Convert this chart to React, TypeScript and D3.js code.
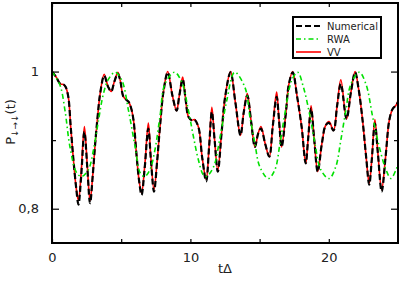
import React, { useEffect, useRef } from "react";
import * as d3 from "d3";

// ---- data ----
const numT = [0, 0.3, 0.6, 0.85, 1.0, 1.18, 1.35, 1.55, 1.75, 1.91, 2.1, 2.34, 2.55, 2.75, 2.95, 3.12, 3.3, 3.48, 3.77, 4.05, 4.28, 4.5, 4.76, 4.95, 5.17, 5.53, 5.7, 5.89, 6.1, 6.3, 6.47, 6.7, 6.96, 7.15, 7.37, 7.6, 7.8, 8.05, 8.36, 8.7, 9.0, 9.2, 9.44, 9.65, 9.86, 10.1, 10.29, 10.58, 10.85, 11.14, 11.35, 11.55, 11.75, 11.98, 12.25, 12.51, 12.9, 13.25, 13.62, 13.85, 14.11, 14.4, 14.66, 14.9, 15.1, 15.4, 15.7, 15.95, 16.23, 16.4, 16.59, 16.9, 17.1, 17.39, 17.7, 18.04, 18.33, 18.5, 18.72, 18.95, 19.2, 19.5, 19.78, 20.02, 20.34, 20.6, 20.87, 21.28, 21.6, 21.9, 22.15, 22.44, 22.7, 22.92, 23.1, 23.33, 23.55, 23.82, 24.1, 24.37, 24.6, 24.86, 25];
const numericalV = [1.0, 0.992, 0.982, 0.981, 0.977, 0.963, 0.92, 0.871, 0.83, 0.806, 0.845, 0.912, 0.86, 0.808, 0.85, 0.895, 0.935, 0.968, 0.994, 0.978, 0.971, 0.985, 0.997, 0.985, 0.963, 0.956, 0.948, 0.929, 0.88, 0.84, 0.82, 0.86, 0.917, 0.87, 0.825, 0.87, 0.919, 0.97, 0.999, 0.965, 0.943, 0.965, 0.989, 0.96, 0.934, 0.929, 0.93, 0.919, 0.875, 0.84, 0.89, 0.941, 0.9, 0.854, 0.91, 0.963, 0.999, 0.955, 0.907, 0.94, 0.965, 0.925, 0.89, 0.91, 0.917, 0.895, 0.876, 0.92, 0.963, 0.93, 0.89, 0.94, 0.98, 0.999, 0.965, 0.919, 0.866, 0.9, 0.946, 0.9, 0.854, 0.895, 0.922, 0.925, 0.914, 0.95, 0.982, 0.931, 0.97, 0.999, 0.975, 0.929, 0.875, 0.835, 0.87, 0.924, 0.88, 0.825, 0.875, 0.929, 0.945, 0.951, 0.955];
const vvV = [1.0, 0.992, 0.982, 0.981, 0.977, 0.963, 0.92, 0.871, 0.83, 0.812, 0.85, 0.92, 0.862, 0.812, 0.85, 0.895, 0.935, 0.968, 0.996, 0.978, 0.971, 0.985, 0.999, 0.985, 0.963, 0.956, 0.948, 0.929, 0.88, 0.84, 0.823, 0.862, 0.925, 0.872, 0.828, 0.87, 0.919, 0.97, 1.0, 0.965, 0.943, 0.965, 0.992, 0.96, 0.934, 0.929, 0.93, 0.919, 0.875, 0.843, 0.89, 0.948, 0.9, 0.856, 0.91, 0.963, 1.0, 0.955, 0.907, 0.94, 0.968, 0.925, 0.89, 0.91, 0.92, 0.895, 0.876, 0.92, 0.97, 0.93, 0.89, 0.94, 0.98, 1.0, 0.965, 0.919, 0.866, 0.9, 0.95, 0.9, 0.854, 0.895, 0.922, 0.927, 0.914, 0.95, 0.988, 0.931, 0.97, 1.0, 0.975, 0.929, 0.875, 0.837, 0.87, 0.93, 0.88, 0.828, 0.875, 0.929, 0.945, 0.951, 0.958];
const rwaT = [0, 0.58, 0.94, 1.3, 1.79, 2.15, 2.63, 3.0, 3.36, 3.72, 4.08, 4.57, 5.05, 5.53, 6.01, 6.38, 6.7, 7.08, 7.44, 7.8, 8.16, 8.85, 9.37, 9.86, 10.22, 10.58, 10.94, 11.15, 11.67, 12.15, 12.63, 13.2, 13.94, 14.3, 14.66, 15.02, 15.63, 16.11, 16.47, 16.83, 17.32, 17.75, 18.17, 18.65, 19.0, 19.42, 20.02, 20.5, 20.87, 21.23, 21.6, 22.2, 22.68, 23.17, 23.65, 24.13, 24.49, 24.86, 25];
const rwaV = [1.0, 0.98, 0.943, 0.89, 0.852, 0.847, 0.857, 0.886, 0.929, 0.968, 0.989, 0.999, 0.987, 0.943, 0.89, 0.852, 0.847, 0.857, 0.886, 0.934, 0.982, 0.999, 0.985, 0.943, 0.905, 0.871, 0.849, 0.847, 0.861, 0.905, 0.958, 0.999, 0.977, 0.934, 0.895, 0.861, 0.844, 0.857, 0.895, 0.939, 0.987, 0.999, 0.977, 0.934, 0.895, 0.857, 0.844, 0.861, 0.9, 0.943, 0.982, 0.999, 0.982, 0.934, 0.89, 0.857, 0.844, 0.857, 0.865];

const xMajorTicks = [0, 10, 20];
const xMinorTicks = [5, 15, 25];
const yMajorTicks = [0.8, 1.0];
const yMinorTicks = [0.9];
const legendLabels = ["Numerical", "RWA", "VV"];

const W = 399, H = 281;
const M = { left: 52, right: 398, top: 3, bottom: 243 };
const FONT = "DejaVu Sans, sans-serif";

export default function App() {
  const ref = useRef<SVGSVGElement>(null);

  useEffect(() => {
    const svg = d3.select(ref.current);
    svg.selectAll("*").remove();
    const x = d3.scaleLinear().domain([0, 25]).range([M.left, M.right]);
    const y = d3.scaleLinear().domain([0.75, 1.1]).range([M.bottom, M.top]);

    svg.append("defs").append("clipPath").attr("id", "clip")
      .append("rect").attr("x", M.left).attr("y", M.top)
      .attr("width", M.right - M.left).attr("height", M.bottom - M.top);

    const line = d3.line<[number, number]>()
      .x((d) => x(d[0])).y((d) => y(d[1]))
      .curve(d3.curveCatmullRom.alpha(0.5));

    const g = svg.append("g").attr("clip-path", "url(#clip)");
    const numData = numT.map((t, i) => [t, numericalV[i]] as [number, number]);
    const vvData = numT.map((t, i) => [t, vvV[i]] as [number, number]);
    const rwaData = rwaT.map((t, i) => [t, rwaV[i]] as [number, number]);

    g.append("path").attr("d", line(vvData)).attr("fill", "none")
      .attr("stroke", "#ff0000").attr("stroke-width", 1.6);
    g.append("path").attr("d", line(numData)).attr("fill", "none")
      .attr("stroke", "#000").attr("stroke-width", 2.2).attr("stroke-dasharray", "6,3");
    g.append("path").attr("d", line(rwaData)).attr("fill", "none")
      .attr("stroke", "#00e000").attr("stroke-width", 1.6).attr("stroke-dasharray", "5,3,1.5,3");

    // axes with inward ticks
    const axB = svg.append("g").attr("transform", `translate(0,${M.bottom})`);
    axB.call(d3.axisBottom(x).tickValues(xMajorTicks).tickSizeInner(-4).tickSizeOuter(0).tickPadding(10).tickFormat(d3.format("d")));
    axB.append("g").call(d3.axisBottom(x).tickValues(xMinorTicks).tickSizeInner(-4).tickSizeOuter(0).tickFormat(() => ""));
    const axT = svg.append("g").attr("transform", `translate(0,${M.top})`);
    axT.call(d3.axisTop(x).tickValues([...xMajorTicks, ...xMinorTicks]).tickSizeInner(-4).tickSizeOuter(0).tickFormat(() => ""));
    const axL = svg.append("g").attr("transform", `translate(${M.left},0)`);
    axL.call(d3.axisLeft(y).tickValues(yMajorTicks).tickSizeInner(-7).tickSizeOuter(0).tickPadding(13)
      .tickFormat((d) => (d === 1 ? "1" : d3.format(".1f")(d as number).replace(".", ","))));
    axL.append("g").call(d3.axisLeft(y).tickValues(yMinorTicks).tickSizeInner(-4).tickSizeOuter(0).tickFormat(() => ""));
    const axR = svg.append("g").attr("transform", `translate(${M.right},0)`);
    axR.call(d3.axisRight(y).tickValues(yMajorTicks).tickSizeInner(-7).tickSizeOuter(0).tickFormat(() => ""));
    axR.append("g").call(d3.axisRight(y).tickValues(yMinorTicks).tickSizeInner(-4).tickSizeOuter(0).tickFormat(() => ""));

    svg.selectAll(".domain").remove();
    svg.selectAll(".tick line").attr("stroke", "#000").attr("stroke-width", 1.2);
    svg.selectAll(".tick text").attr("font-family", FONT).attr("font-size", 13).attr("fill", "#222");

    svg.append("rect").attr("x", M.left).attr("y", M.top)
      .attr("width", M.right - M.left).attr("height", M.bottom - M.top)
      .attr("fill", "none").attr("stroke", "#000").attr("stroke-width", 2);

    // legend
    const lg = svg.append("g");
    lg.append("rect").attr("x", 293).attr("y", 17).attr("width", 88).attr("height", 41)
      .attr("fill", "#fff").attr("stroke", "#000").attr("stroke-width", 2);
    const styles = [
      { c: "#000", w: 2, dash: "6,3" },
      { c: "#00e000", w: 1.6, dash: "5,3,1.5,3" },
      { c: "#ff0000", w: 1.6, dash: null },
    ];
    legendLabels.forEach((lab, i) => {
      const yy = 26 + i * 13;
      const s = styles[i];
      const ln = lg.append("line").attr("x1", 296).attr("x2", 321).attr("y1", yy).attr("y2", yy)
        .attr("stroke", s.c).attr("stroke-width", s.w);
      if (s.dash) ln.attr("stroke-dasharray", s.dash);
      lg.append("text").attr("x", 327).attr("y", yy + 3.5).attr("font-family", FONT)
        .attr("font-size", 10).attr("fill", "#222").text(lab);
    });

    // axis titles
    svg.append("text").attr("x", 225).attr("y", 273).attr("text-anchor", "middle")
      .attr("font-family", FONT).attr("font-size", 13).attr("fill", "#222").text("tΔ");
    const yt = svg.append("text").attr("transform", "translate(15,122) rotate(-90)")
      .attr("text-anchor", "middle").attr("font-family", FONT).attr("font-size", 13).attr("fill", "#222");
    yt.append("tspan").text("P");
    yt.append("tspan").attr("font-size", 9).attr("dy", 3).text("↓→↓");
    yt.append("tspan").attr("dy", -3).text("(t)");
  }, []);

  return (
    <svg ref={ref} width={W} height={H}
      style={{ position: "absolute", left: 0, top: 0, background: "#fff" }} />
  );
}
